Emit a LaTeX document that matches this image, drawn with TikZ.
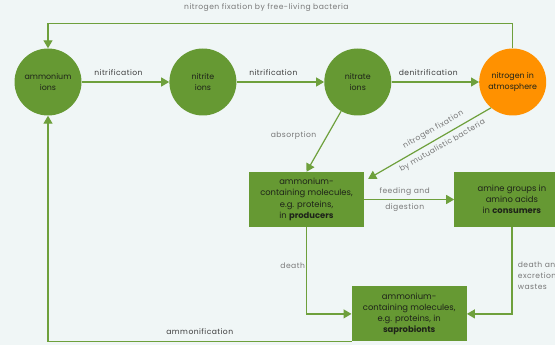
\documentclass[tikz,border=0pt]{standalone}
\usepackage{fontspec}
\setmainfont{Poppins}
\newfontfamily\fonterotulo{Poppins}[LetterSpace=6.0]
\usetikzlibrary{
  arrows.meta,
  positioning,
  calc
}
\definecolor{verde}{RGB}{102,153,51}
\definecolor{linha}{RGB}{110,160,60}
\definecolor{laranja}{RGB}{255,145,0}
\definecolor{fundo}{RGB}{240,246,246}
\definecolor{cinza}{RGB}{120,120,120}
\definecolor{escuro}{RGB}{60,60,60}
\definecolor{tinta}{RGB}{30,35,25}

\begin{document}
\begin{tikzpicture}[
x=1pt,y=1pt,
>={Triangle[length=8pt,width=9pt]},
circulo/.style={
circle,
fill=verde,
minimum size=67pt,
inner sep=0pt,
align=center,
text=tinta,
font=\fontsize{7.9}{10.8}\selectfont
},
caixa/.style={
fill=verde,
minimum width=115pt,
minimum height=55pt,
inner sep=0pt,
align=center,
text=tinta,
font=\fontsize{8.4}{11.3}\selectfont
},
seta/.style={->,draw=linha,line width=1.2pt},
rotulo/.style={text=cinza,font=\fonterotulo\fontsize{7.6}{10.8}\selectfont},
rotuloesc/.style={rotulo,text=escuro}
]

\fill[fundo] (0,0) rectangle (555,-345);
\useasboundingbox (0,0) rectangle (555,-345);

\node[circulo] (amonio) at (48,-82) {ammonium\\ions};
\node[circulo,right=87.5pt of amonio] (nitrito) {nitrite\\ions};
\node[circulo,right=87.5pt of nitrito] (nitrato) {nitrate\\ions};
\node[circulo,fill=laranja,right=87.5pt of nitrato] (azoto)
{nitrogen in\\atmosphere};

\node[caixa] (prod) at (306.5,-199.5)
{ammonium-\\containing molecules,\\e.g. proteins,\\in \textbf{producers}};
\node[caixa,right=90pt of prod] (cons)
{amine groups in\\amino acids\\in \textbf{consumers}};
\path (prod.south) -- (cons.south) coordinate[midway] (meio);
\node[caixa,below=59pt of meio] (sapro)
{ammonium-\\containing molecules,\\e.g. proteins, in\\\textbf{saprobionts}};

\coordinate (pontamut) at ($(prod.north east)+(4,-7)$);

\draw[seta] (amonio) -- node[rotuloesc,above=2pt,pos=0.42]{nitrification} (nitrito);
\draw[seta] (nitrito) -- node[rotuloesc,above=2pt,pos=0.42]{nitrification} (nitrato);
\draw[seta] (nitrato) -- node[rotuloesc,above=2pt,pos=0.42]{denitrification} (azoto);

\draw[seta] (azoto.north) -- ++(0,24.5) -| node[rotulo,pos=0.265,above=8pt]
{nitrogen fixation by free-living bacteria} (amonio.north);

\draw[seta] (nitrato) -- node[rotulo,left=7pt,pos=0.4]{absorption} (prod.north);
\draw[seta,<-] (pontamut) -- node[rotulo,sloped,above=2pt,pos=0.57]{nitrogen fixation}
node[rotulo,sloped,below=1pt,pos=0.57]{by mutualistic bacteria} (azoto.230);

\draw[seta] (prod) -- node[rotulo,above,pos=0.45]{feeding and}
node[rotulo,below,pos=0.45]{digestion} (cons);

\draw[seta] (prod.south) |- node[rotulo,left,inner sep=1pt,pos=0.22]{death} (sapro.west);
\draw[seta] (cons.south) |- node[rotulo,right=2pt,align=left,pos=0.28]
{death and\\excretion\\wastes} (sapro.east);

\draw[seta] (sapro.south west) -| node[rotuloesc,pos=0.25,above=3pt]{ammonification} (amonio.south);

\end{tikzpicture}
\end{document}
